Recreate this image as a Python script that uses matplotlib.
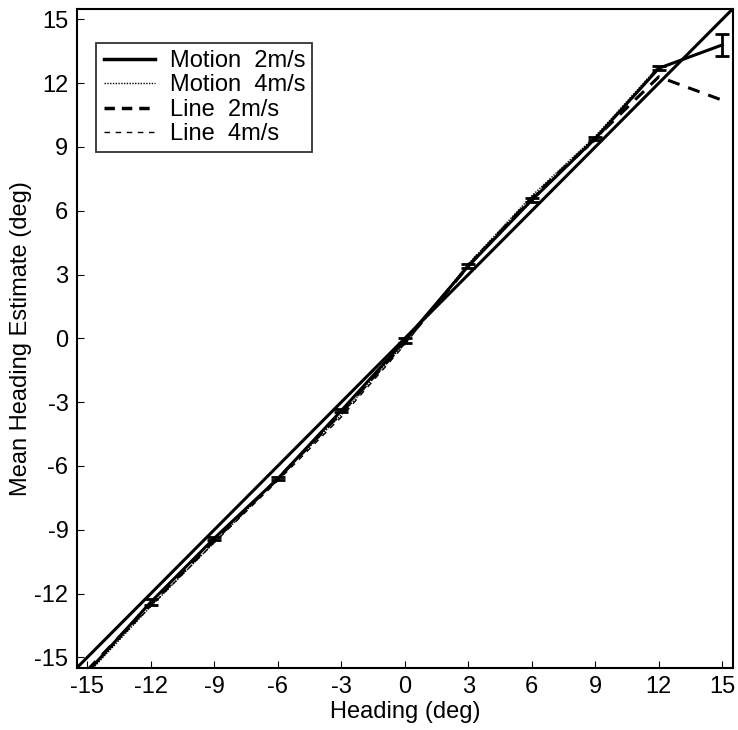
import matplotlib.pyplot as plt
from matplotlib.lines import Line2D

plt.rcParams['font.family'] = ['Liberation Sans', 'DejaVu Sans']
plt.rcParams['axes.unicode_minus'] = False

# headings (deg)
heading = [-15, -12, -9, -6, -3, 0, 3, 6, 9, 12, 15]
heading4 = [-15, -12, -9, -6, -3, 0, 3, 6, 9, 12]

# mean heading estimates (deg)
motion_2 = [-15.7, -12.4, -9.4, -6.6, -3.4, -0.1, 3.4, 6.5, 9.4, 12.7, 13.8]
motion_2_err = [0.1, 0.12, 0.08, 0.08, 0.08, 0.1, 0.08, 0.1, 0.08, 0.1, 0.5]
motion_4 = [-15.8, -12.6, -9.6, -6.6, -3.6, -0.2, 3.5, 6.7, 9.5, 12.8]
line_2 = [-15.6, -12.5, -9.5, -6.6, -3.5, -0.2, 3.4, 6.6, 9.4, 12.3, 11.2]
line_4 = [-15.7, -12.6, -9.6, -6.7, -3.7, -0.3, 3.5, 6.6, 9.3, 12.8]

ticks = [-15, -12, -9, -6, -3, 0, 3, 6, 9, 12, 15]
tick_labels = ['-15', '-12', '-9', '-6', '-3', '0', '3', '6', '9', '12', '15']

fig = plt.figure(figsize=(7.38, 7.30), dpi=100)
ax = fig.add_axes([0.104, 0.085, 0.889, 0.903])

# reference line y = x
ax.plot([-16, 16], [-16, 16], color='black', lw=2.2)

ax.errorbar(heading, motion_2, yerr=motion_2_err, color='black', lw=2.2,
            capsize=5, capthick=2, elinewidth=2)
ax.plot(heading4, motion_4, color='black', lw=1, ls=(0, (1, 1)))
ax.plot(heading, line_2, color='black', lw=2.2, ls=(0, (4, 3)))
ax.plot(heading4, line_4, color='black', lw=1, ls=(0, (4, 4)))

ax.set_xlim(-15.5, 15.5)
ax.set_ylim(-15.5, 15.5)
ax.set_xticks(ticks, tick_labels)
ax.set_yticks(ticks, tick_labels)
ax.tick_params(direction='in', length=5, labelsize=17, pad=6)
ax.set_xlabel('Heading (deg)', fontsize=17, labelpad=2)
ax.set_ylabel('Mean Heading Estimate (deg)', fontsize=17, labelpad=2)
for s in ax.spines.values():
    s.set_linewidth(1.5)

handles = [
    Line2D([], [], color='black', lw=2.5),
    Line2D([], [], color='black', lw=1, ls=(0, (1, 1))),
    Line2D([], [], color='black', lw=2.5, ls=(0, (3, 2))),
    Line2D([], [], color='black', lw=1, ls=(0, (4, 4))),
]
labels = ['Motion  2m/s', 'Motion  4m/s', 'Line  2m/s', 'Line  4m/s']
leg = ax.legend(handles, labels, loc='upper left', fontsize=17, frameon=True,
                fancybox=False, edgecolor='black', handlelength=2.2,
                handletextpad=0.6, borderpad=0.3, labelspacing=0.1,
                borderaxespad=0, bbox_to_anchor=(0.03, 0.948))
leg.get_frame().set_linewidth(1.3)

fig.savefig('out.png', dpi=100)
